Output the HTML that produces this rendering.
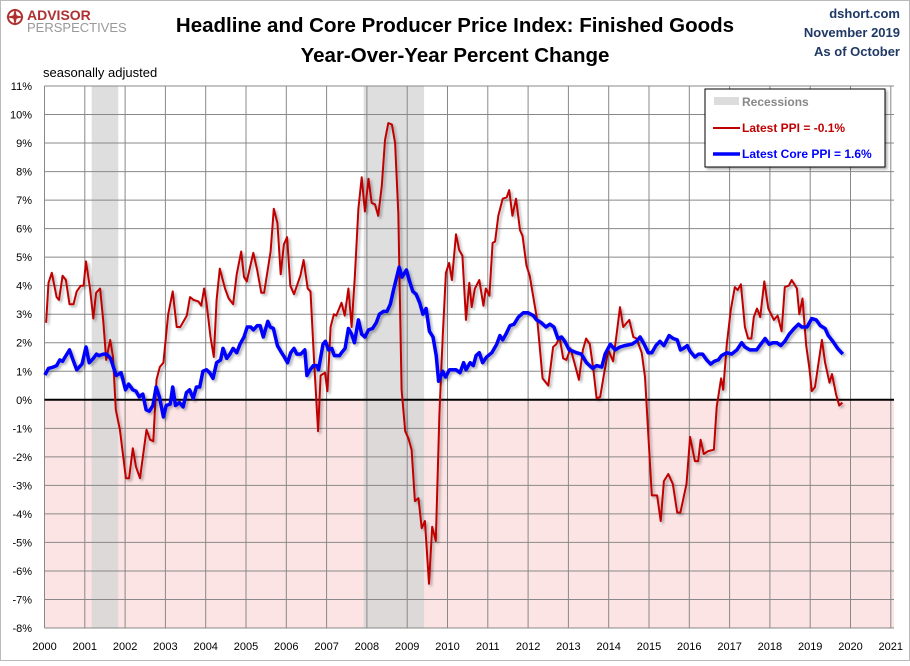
<!DOCTYPE html>
<html><head><meta charset="utf-8">
<style>
html,body{margin:0;padding:0;background:#fff;}
body{width:910px;height:661px;overflow:hidden;font-family:"Liberation Sans",sans-serif;}
svg text{font-family:"Liberation Sans",sans-serif;}
</style></head>
<body>
<svg id="chart" width="910" height="661" viewBox="0 0 910 661" xmlns="http://www.w3.org/2000/svg">
<defs>
<filter id="sh" x="-5%" y="-5%" width="110%" height="110%"><feDropShadow dx="2" dy="2" stdDeviation="1.2" flood-color="#000" flood-opacity="0.3"/></filter>
</defs>
<rect x="0.5" y="0.5" width="909" height="660" fill="#fff" stroke="#bbb"/>
<g id="plot"></g>
<g>
<circle cx="15" cy="17" r="7" fill="none" stroke="#b03030" stroke-width="2"/>
<path d="M15 8 L17 17 L15 26 L13 17 Z M6 17 L15 15 L24 17 L15 19 Z" fill="#b03030"/>
<text x="27" y="20" font-size="14" font-weight="bold" fill="#b03030">ADVISOR</text>
<text x="27" y="32" font-size="13" fill="#999">PERSPECTIVES</text>
</g>
<text x="455" y="32" text-anchor="middle" font-size="20.5" font-weight="bold" fill="#000">Headline and Core Producer Price Index: Finished Goods</text>
<text x="455" y="62" text-anchor="middle" font-size="20.5" font-weight="bold" fill="#000">Year-Over-Year Percent Change</text>
<text x="900" y="18" text-anchor="end" font-size="13" font-weight="bold" fill="#1f3864">dshort.com</text>
<text x="900" y="37" text-anchor="end" font-size="13" font-weight="bold" fill="#1f3864">November 2019</text>
<text x="900" y="56" text-anchor="end" font-size="13" font-weight="bold" fill="#1f3864">As of October</text>
<text x="43" y="77" font-size="13" fill="#000">seasonally adjusted</text>
<g>
<rect x="705" y="89" width="180" height="78" fill="#fff" stroke="#000" stroke-width="1" filter="url(#sh)"/>
<rect x="714" y="97" width="25" height="8" fill="#dcdcdc"/>
<text x="742" y="106" font-size="12" font-weight="bold" fill="#888">Recessions</text>
<line x1="713" y1="128" x2="740" y2="128" stroke="#c00000" stroke-width="2"/>
<text x="742" y="132" font-size="12" font-weight="bold" fill="#c00000">Latest PPI = -0.1%</text>
<line x1="713" y1="154" x2="740" y2="154" stroke="#0000ff" stroke-width="3.5"/>
<text x="742" y="158" font-size="12" font-weight="bold" fill="#0000ff">Latest Core PPI = 1.6%</text>
</g>
</svg>
<script>
const yTicks=[11,10,9,8,7,6,5,4,3,2,1,0,-1,-2,-3,-4,-5,-6,-7,-8];
const xYears=[2000,2001,2002,2003,2004,2005,2006,2007,2008,2009,2010,2011,2012,2013,2014,2015,2016,2017,2018,2019,2020,2021];
const recessionStarts=[2001.17,2007.92];
const recessionEnds=[2001.83,2009.42];
const ppiDates=[2000.04,2000.1,2000.18,2000.3,2000.36,2000.45,2000.53,2000.62,2000.72,2000.8,2000.9,2000.97,2001.03,2001.13,2001.21,2001.28,2001.38,2001.46,2001.53,2001.63,2001.7,2001.77,2001.87,2002.02,2002.1,2002.19,2002.27,2002.37,2002.53,2002.62,2002.7,2002.78,2002.86,2002.95,2003.07,2003.18,2003.28,2003.37,2003.53,2003.61,2003.7,2003.82,2003.89,2003.96,2004.02,2004.12,2004.2,2004.27,2004.35,2004.48,2004.57,2004.68,2004.77,2004.88,2004.95,2005.02,2005.18,2005.27,2005.38,2005.45,2005.61,2005.69,2005.78,2005.86,2005.94,2006.02,2006.1,2006.19,2006.3,2006.35,2006.43,2006.53,2006.6,2006.69,2006.79,2006.85,2006.96,2007.02,2007.1,2007.18,2007.24,2007.37,2007.45,2007.54,2007.62,2007.7,2007.79,2007.87,2007.95,2008.04,2008.12,2008.2,2008.28,2008.37,2008.45,2008.53,2008.62,2008.7,2008.78,2008.86,2008.95,2009.03,2009.11,2009.19,2009.28,2009.36,2009.44,2009.54,2009.62,2009.71,2009.8,2009.88,2009.96,2010.04,2010.11,2010.21,2010.29,2010.37,2010.46,2010.54,2010.6,2010.68,2010.79,2010.89,2010.95,2011.04,2011.12,2011.18,2011.26,2011.37,2011.47,2011.53,2011.61,2011.7,2011.8,2011.86,2011.96,2012.04,2012.13,2012.23,2012.36,2012.5,2012.62,2012.7,2012.78,2012.87,2012.95,2013.05,2013.15,2013.26,2013.36,2013.44,2013.53,2013.62,2013.7,2013.79,2013.87,2013.99,2014.11,2014.2,2014.28,2014.36,2014.51,2014.61,2014.69,2014.82,2014.9,2015.07,2015.2,2015.29,2015.37,2015.48,2015.59,2015.7,2015.78,2015.93,2016.02,2016.14,2016.22,2016.28,2016.36,2016.47,2016.61,2016.68,2016.79,2016.84,2016.93,2017.03,2017.13,2017.2,2017.28,2017.38,2017.46,2017.54,2017.6,2017.68,2017.76,2017.86,2017.96,2018.1,2018.19,2018.29,2018.37,2018.47,2018.54,2018.67,2018.73,2018.81,2018.9,2018.98,2019.04,2019.12,2019.29,2019.37,2019.48,2019.54,2019.64,2019.72,2019.8];
const ppiValues=[2.7,4.1,4.45,3.6,3.5,4.35,4.2,3.35,3.35,3.8,4.0,4.0,4.85,3.9,2.85,3.75,3.9,2.75,1.4,2.1,1.5,-0.35,-1.05,-2.75,-2.75,-1.7,-2.35,-2.75,-1.05,-1.4,-1.45,0.7,1.15,1.3,3.0,3.8,2.55,2.55,2.95,3.6,3.5,3.45,3.3,3.9,3.4,2.2,1.5,3.5,4.6,3.9,3.55,3.35,4.4,5.2,4.3,4.15,5.15,4.6,3.75,3.75,5.2,6.7,6.2,4.4,5.45,5.7,4.0,3.7,4.15,4.35,4.9,3.9,3.8,1.35,-1.1,0.85,0.95,0.3,2.55,3.0,2.95,3.4,2.95,3.9,2.55,4.3,6.7,7.8,6.6,7.75,6.9,6.85,6.45,7.5,9.1,9.7,9.65,9.0,6.55,0.35,-1.1,-1.35,-1.75,-3.55,-3.45,-4.5,-4.25,-6.45,-4.45,-4.95,-0.5,2.2,4.45,4.8,4.2,5.8,5.25,5.05,2.8,4.1,3.25,3.9,4.2,3.3,3.9,3.65,5.5,5.55,6.45,7.05,7.1,7.35,6.45,7.05,5.95,5.75,4.7,4.35,3.6,2.75,0.75,0.5,1.85,1.95,2.2,1.45,1.4,1.8,1.3,0.7,1.75,2.15,1.95,1.05,0.05,0.1,0.8,1.75,1.35,2.35,3.25,2.55,2.8,2.2,2.15,1.65,0.8,-3.35,-3.35,-4.25,-2.85,-2.6,-2.95,-3.95,-3.95,-2.95,-1.3,-2.15,-2.15,-1.4,-1.9,-1.8,-1.75,-0.25,0.75,0.35,1.95,3.15,3.95,3.85,4.05,2.55,2.15,2.15,2.9,3.2,2.9,4.15,3.2,2.8,2.95,2.4,3.95,4.0,4.2,3.9,3.0,3.55,1.9,1.1,0.3,0.45,2.1,1.3,0.6,0.9,0.2,-0.2,-0.1];
const coreDates=[2000.01,2000.1,2000.22,2000.3,2000.38,2000.45,2000.51,2000.62,2000.72,2000.8,2000.93,2001.03,2001.11,2001.21,2001.29,2001.35,2001.46,2001.54,2001.64,2001.72,2001.78,2001.9,2002.01,2002.09,2002.19,2002.27,2002.35,2002.44,2002.52,2002.6,2002.69,2002.77,2002.85,2002.95,2003.02,2003.12,2003.18,2003.25,2003.35,2003.44,2003.52,2003.6,2003.69,2003.77,2003.85,2003.93,2004.02,2004.1,2004.18,2004.27,2004.37,2004.43,2004.52,2004.6,2004.68,2004.77,2004.85,2004.95,2005.03,2005.12,2005.18,2005.28,2005.35,2005.43,2005.54,2005.6,2005.68,2005.78,2005.86,2005.95,2006.03,2006.11,2006.19,2006.26,2006.36,2006.46,2006.51,2006.59,2006.67,2006.76,2006.8,2006.91,2006.97,2007.05,2007.13,2007.19,2007.32,2007.37,2007.46,2007.54,2007.62,2007.69,2007.79,2007.87,2007.95,2008.04,2008.14,2008.23,2008.31,2008.41,2008.5,2008.58,2008.66,2008.74,2008.8,2008.87,2008.98,2009.06,2009.14,2009.22,2009.31,2009.39,2009.47,2009.55,2009.64,2009.72,2009.78,2009.88,2009.95,2010.05,2010.21,2010.31,2010.4,2010.46,2010.56,2010.64,2010.71,2010.79,2010.87,2010.97,2011.1,2011.22,2011.3,2011.37,2011.45,2011.55,2011.65,2011.76,2011.88,2012.0,2012.13,2012.21,2012.33,2012.44,2012.54,2012.64,2012.74,2012.83,2012.91,2013.02,2013.12,2013.2,2013.32,2013.45,2013.6,2013.7,2013.83,2013.91,2014.04,2014.16,2014.28,2014.4,2014.57,2014.69,2014.78,2014.88,2014.98,2015.07,2015.17,2015.27,2015.37,2015.5,2015.6,2015.7,2015.78,2015.85,2015.95,2016.02,2016.14,2016.23,2016.33,2016.43,2016.53,2016.62,2016.72,2016.8,2016.93,2017.05,2017.18,2017.3,2017.38,2017.5,2017.67,2017.75,2017.88,2017.98,2018.08,2018.17,2018.27,2018.37,2018.48,2018.6,2018.71,2018.79,2018.92,2019.04,2019.15,2019.25,2019.37,2019.45,2019.56,2019.68,2019.81];
const coreValues=[0.87,1.1,1.15,1.2,1.4,1.35,1.5,1.75,1.35,1.05,1.25,1.85,1.3,1.45,1.6,1.55,1.6,1.6,1.45,1.1,0.85,0.95,0.35,0.55,0.35,0.3,0.1,0.2,-0.35,-0.4,-0.2,0.45,0.1,-0.6,-0.2,-0.15,0.45,-0.2,-0.1,-0.25,0.25,0.35,0.05,0.45,0.45,1.0,1.05,0.95,0.75,1.3,1.4,1.8,1.45,1.6,1.8,1.65,1.95,2.2,2.55,2.55,2.45,2.6,2.6,2.2,2.75,2.55,2.5,1.9,1.7,1.5,1.3,1.65,1.8,1.6,1.6,1.75,0.85,1.05,1.2,1.2,1.05,1.95,2.05,1.75,1.8,1.55,1.55,1.65,1.8,2.5,2.3,2.0,2.8,2.3,2.2,2.45,2.5,2.7,3.0,3.1,3.1,3.35,3.85,4.3,4.65,4.3,4.55,4.15,3.8,3.7,3.4,3.0,3.2,2.4,2.2,1.55,0.65,1.0,0.8,1.05,1.05,0.95,1.3,1.05,1.3,1.2,1.55,1.65,1.3,1.5,1.65,1.95,2.25,2.1,2.3,2.6,2.65,2.9,3.05,3.05,2.95,2.8,2.7,2.55,2.65,2.55,2.15,2.2,2.05,1.75,1.7,1.65,1.6,1.3,1.1,1.2,1.15,1.6,1.95,1.75,1.85,1.9,1.95,2.05,2.2,1.95,1.65,1.65,1.9,2.05,1.9,2.25,2.15,2.1,1.75,1.8,1.9,1.7,1.5,1.6,1.6,1.4,1.25,1.35,1.4,1.55,1.65,1.6,1.75,2.0,1.85,1.75,1.75,1.9,2.15,1.95,2.0,2.0,1.9,2.05,2.3,2.5,2.65,2.55,2.55,2.85,2.8,2.6,2.5,2.25,2.05,1.8,1.6];

const NS='http://www.w3.org/2000/svg';
const L=44.5,R=894,X0=2000,X1=2021,XR=890.8;
const T=86,B=628,YMAX=11,YMIN=-8;
function sx(d){return L+(d-X0)*(XR-L)/(X1-X0);}
function sy(v){return T+(YMAX-v)*(B-T)/(YMAX-YMIN);}
const plot=document.getElementById('plot');
function mk(tag,attrs){const e=document.createElementNS(NS,tag);for(const k in attrs)e.setAttribute(k,attrs[k]);plot.appendChild(e);return e;}

let e=mk('rect',{x:L,y:sy(0),width:R-L,height:B-sy(0),fill:'#fde4e4'});


for(let i=0;i<recessionStarts.length;i++){
  const r=mk('rect',{x:sx(recessionStarts[i]),y:T,width:sx(recessionEnds[i])-sx(recessionStarts[i]),height:B-T,fill:'#d6d6d6','fill-opacity':0.8});
  
  
}
yTicks.forEach(v=>{
  const g=mk('line',{x1:L,x2:R,y1:sy(v),y2:sy(v),stroke:'#888','stroke-width':1});
  
  
  const t=mk('text',{x:32,y:sy(v)+4,'text-anchor':'end','font-size':11,fill:'#000'});
  t.textContent=v+'%';
  
  
});
xYears.forEach(y=>{
  const g=mk('line',{x1:sx(y),x2:sx(y),y1:T,y2:B,stroke:'#888','stroke-width':1});
  
  
  const t=mk('text',{x:sx(y),y:650,'text-anchor':'middle','font-size':11,fill:'#000'});
  t.textContent=y;
  
  
});
e=mk('line',{x1:L,x2:R,y1:sy(0),y2:sy(0),stroke:'#000','stroke-width':2});


function path(ds,vs){return ds.map((d,i)=>(i?'L':'M')+sx(d).toFixed(1)+' '+sy(vs[i]).toFixed(1)).join(' ');}
e=mk('path',{d:path(ppiDates,ppiValues),fill:'none',stroke:'#c00000','stroke-width':2,'stroke-linejoin':'round',filter:'url(#sh)'});


e=mk('path',{d:path(coreDates,coreValues),fill:'none',stroke:'#0000ff','stroke-width':3.5,'stroke-linejoin':'round',filter:'url(#sh)'});


</script>
</body></html>
